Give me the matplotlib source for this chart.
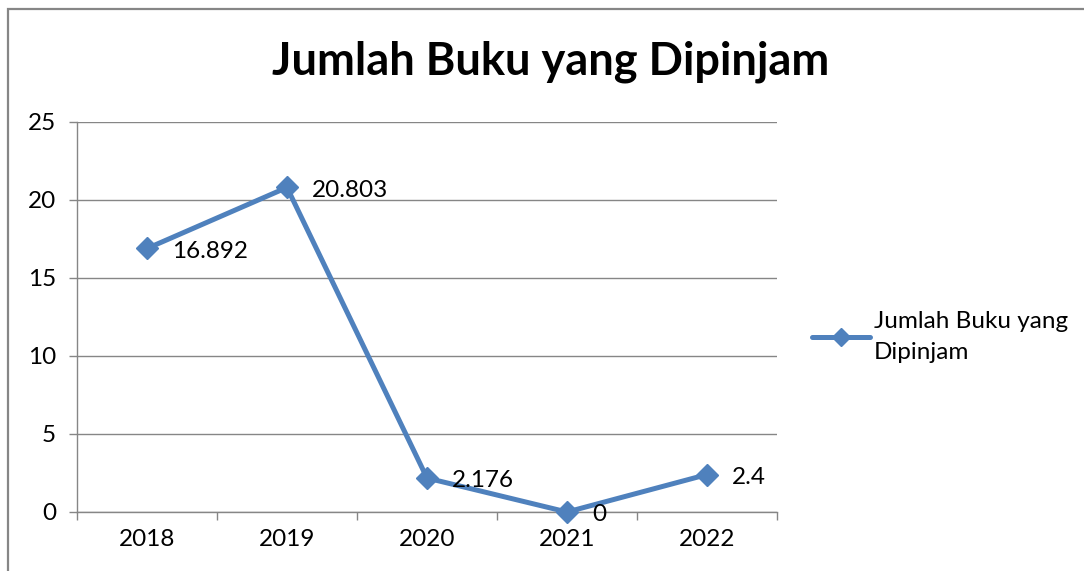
import matplotlib.pyplot as plt
from matplotlib.patches import Rectangle

# data
years = ['2018', '2019', '2020', '2021', '2022']
jumlah = [16.892, 20.803, 2.176, 0, 2.4]
labels = ['16.892', '20.803', '2.176', '0', '2.4']
series_name = 'Jumlah Buku yang\nDipinjam'

W, H = 1084, 571
fig = plt.figure(figsize=(W / 100, H / 100), dpi=100)
plt.rcParams['font.family'] = ['Lato', 'DejaVu Sans']
fs = 17.5

# plot area in pixels: x 77..777, y 122..512
ax = fig.add_axes([77 / W, 1 - 512 / H, 700 / W, 390 / H])

grey = '#868686'
blue = '#4F81BD'

x = list(range(len(years)))
line, = ax.plot(x, jumlah, color=blue, lw=3.6, marker='D', ms=11,
                solid_capstyle='round', zorder=3, clip_on=False)

for xi, yi, lab in zip(x, jumlah, labels):
    ax.annotate(lab, (xi, yi), xytext=(18, -2), textcoords='offset points',
                ha='left', va='center', fontsize=fs, color='black')

ax.set_xlim(-0.5, 4.5)
ax.set_ylim(0, 25)
ax.set_yticks([0, 5, 10, 15, 20, 25])
ax.set_xticks(x)
ax.set_xticklabels(years)
ax.set_xticks([-0.5, 0.5, 1.5, 2.5, 3.5, 4.5], minor=True)
ax.tick_params(axis='x', which='major', length=0, pad=12, labelsize=fs)
ax.tick_params(axis='x', which='minor', length=6, width=1, color=grey, direction='out')
ax.tick_params(axis='y', length=6, width=1, color=grey, pad=9, labelsize=fs)
ax.grid(axis='y', color=grey, lw=1)
ax.set_axisbelow(True)
for s in ['top', 'right']:
    ax.spines[s].set_visible(False)
for s in ['left', 'bottom']:
    ax.spines[s].set_color(grey)
    ax.spines[s].set_linewidth(1)

fig.text(551 / W, 1 - 62 / H, 'Jumlah Buku yang Dipinjam', ha='center', va='center',
         fontsize=32.5, fontweight='bold')

leg = ax.legend([line], [series_name], loc='center left', bbox_to_anchor=(812 / W, 1 - 337 / H),
                bbox_transform=fig.transFigure, frameon=False, fontsize=fs, markerscale=0.85,
                handlelength=2.4, handletextpad=0.15, borderpad=0, borderaxespad=0)
for t in leg.get_texts():
    t.set_linespacing(1.6)

# chart border
fig.patches.append(Rectangle((8 / W, -0.1), 1.2, 1 - 9 / H + 0.1, transform=fig.transFigure,
                             fill=False, edgecolor=grey, lw=1.6))

fig.savefig('out.png', dpi=100)
